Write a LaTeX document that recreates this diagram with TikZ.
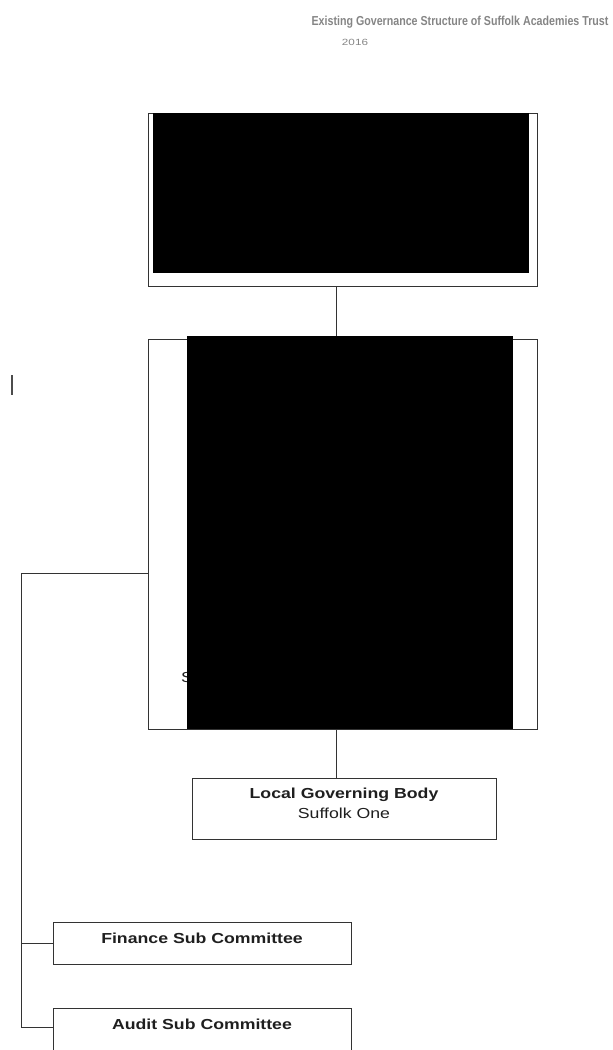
\documentclass[tikz,border=0pt]{standalone}
\usepackage{fontspec}
\setmainfont{Liberation Sans}
\newfontfamily\widesans[FakeStretch=1.22]{Liberation Sans}
\newfontfamily\narrowsans[FakeStretch=0.82]{Liberation Sans}
\newfontfamily\yearsans[FakeStretch=1.3]{Liberation Sans}
\begin{document}
\begin{tikzpicture}[x=1pt,y=1pt,
  box/.style={draw=black!80, line width=0.9pt, fill=white, inner sep=0pt, outer sep=0pt},
  redact/.style={fill=black, inner sep=0pt, outer sep=0pt},
  conn/.style={draw=black!80, line width=0.9pt},
  lbl/.style={font=\widesans\fontsize{14.5}{20}\selectfont, align=center, text=black!88, inner sep=0pt, anchor=base},
  ttl/.style={text=black!48, align=center, inner sep=0pt, anchor=base}]
\useasboundingbox (0,0) rectangle (613,-1050);
% title
\node[ttl, font=\narrowsans\bfseries\fontsize{13}{15}\selectfont] (title) at (460,-25.5) {Existing Governance Structure of Suffolk Academies Trust};
\node[ttl, font=\yearsans\fontsize{9}{11}\selectfont] (year) at (355,-45) {2016};
% boxes
\node[box, minimum width=389pt, minimum height=173pt] (top) at (342.5,-199.5) {};
\node[box, minimum width=389pt, minimum height=390pt] (sec) at (342.5,-534) {};
\node[box, minimum width=304pt, minimum height=61pt] (lgb) at (344,-808.5) {};
\node[box, minimum width=298pt, minimum height=42pt] (fin) at (202,-943) {};
\node[box, minimum width=298pt, minimum height=52pt] (aud) at (202,-1034) {};
% labels
\node[lbl] (lgbtxt) at (344,-798) {\bfseries Local Governing Body};
\node[lbl] (lgbsub) at (344,-818) {Suffolk One};
\node[lbl] (fintxt) at (202,-943.5) {\bfseries Finance Sub Committee};
\node[lbl] (audtxt) at (202,-1029) {\bfseries Audit Sub Committee};
% connectors
\draw[conn] ([xshift=-6.5pt]top.south) -- ([xshift=-6.5pt]sec.north);
\draw[conn] ([xshift=-6.5pt]sec.south) -- ([xshift=-8pt]lgb.north);
\coordinate (spine) at (21,-573);
\draw[conn] ([yshift=-39pt]sec.west) -- (spine) |- (fin.west);
\draw[conn] (spine) |- ([yshift=7pt]aud.west);
% partial text
\node[lbl, anchor=base west] (s) at (181,-682) {S};
% redaction blocks
\node[redact, minimum width=376pt, minimum height=160pt] (r1) at (341,-193) {};
\node[redact, minimum width=326pt, minimum height=393pt] (r2) at (350,-532.5) {};
% stray mark
\draw[line width=1.6pt, black!70] (12,-375) -- (12,-395);
\end{tikzpicture}
\end{document}
